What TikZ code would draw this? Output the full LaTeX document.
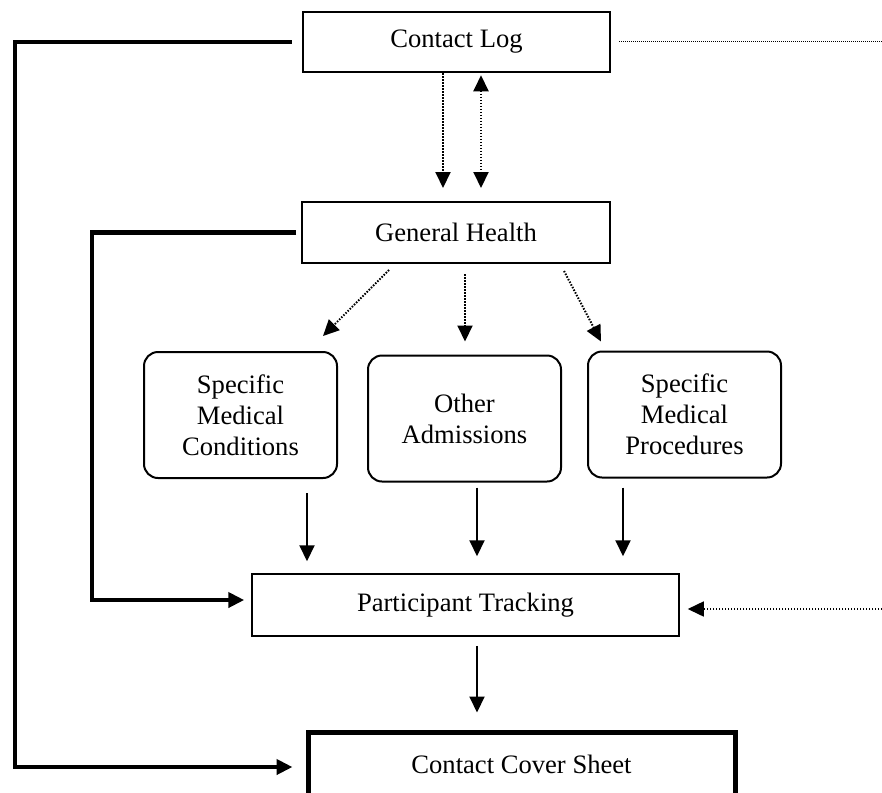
\documentclass[tikz,border=0pt]{standalone}
\usepackage{fontspec}
\setmainfont{Liberation Serif}
\usetikzlibrary{arrows.meta, calc}

\begin{document}
\begin{tikzpicture}[x=1pt, y=-1pt,
    >={Triangle[length=16pt, width=15pt]},
    box/.style={rectangle, draw, line width=2pt, inner sep=0pt, align=center,
      font=\fontsize{26.6}{31}\selectfont},
    rbox/.style={box, rounded corners=14pt, minimum width=193pt, minimum height=126pt},
    link/.style={->, line width=2pt},
    hint/.style={link, dash pattern=on 1.5pt off 1.5pt},
    rail/.style={->, line width=4.5pt}
]
\useasboundingbox (0,0) rectangle (882,792);

% forms
\node[box, line width=2.5pt, minimum width=307pt, minimum height=60pt] (log) at (456.5,42) {Contact Log};
\node[box, minimum width=308pt, minimum height=61pt] (gen) at (456,232.5) {General Health};
\node[rbox] (smc) at (240.5,415) {Specific\\Medical\\Conditions};
\node[rbox] (oa) at (464.5,418.5) {Other\\Admissions};
\node[rbox] (smp) at (684.5,414.5) {Specific\\Medical\\Procedures};
\node[box, line width=1.5pt, minimum width=427pt, minimum height=62pt] (pt) at (465.5,605) {Participant Tracking};
\node[box, line width=5pt, minimum width=427pt, minimum height=64pt] (ccs) at (521.5,764) {Contact Cover Sheet};

\coordinate (railA) at (15,42);
\coordinate (railB) at (92,232.5);
\coordinate (edgeA) at (882,42);
\coordinate (edgeB) at (882,609);

% bypass lines
\draw[rail] ($(log.west)+(-10,0)$) -- (railA) |- ($(ccs.west)+(-13,3)$);
\draw[rail] ($(gen.west)+(-5,0)$) -- (railB) |- ($(pt.west)+(-7,-5)$);

% contact log <-> general health
\draw[hint] ($(log.south)+(-13.5,0)$) -- ($(gen.north)+(-13,-13)$);
\draw[hint, <->] ($(log.south)+(24.5,2)$) -- ($(gen.north)+(25,-13)$);

% general health -> sub forms
\draw[hint] ($(gen.south)+(-67,6)$) -- ($(smc.north)+(82.5,-15)$);
\draw[hint] ($(gen.south)+(9,10)$) -- ($(oa.north)+(0.5,-13)$);
\draw[hint] ($(gen.south)+(108,7)$) -- ($(smp.north)+(-83.5,-9)$);

% sub forms -> tracking
\draw[link] ($(smc.south)+(66.5,14)$) -- ($(pt.north)+(-158.5,-12)$);
\draw[link] ($(oa.south)+(12.5,5)$) -- ($(pt.north)+(11.5,-17)$);
\draw[link] ($(smp.south)+(-61.5,9)$) -- ($(pt.north)+(157.5,-17)$);
\draw[link] ($(pt.south)+(11.5,9)$) -- ($(ccs.north)+(-44.5,-17)$);

% outside links
\draw[hint, -, line width=1pt, dash pattern=on 1pt off 1pt] ($(log.east)+(8,0)$) -- (edgeA);
\draw[hint, line width=1.5pt] (edgeB) -- ($(pt.east |- edgeB)+(8,0)$);
\end{tikzpicture}
\end{document}
